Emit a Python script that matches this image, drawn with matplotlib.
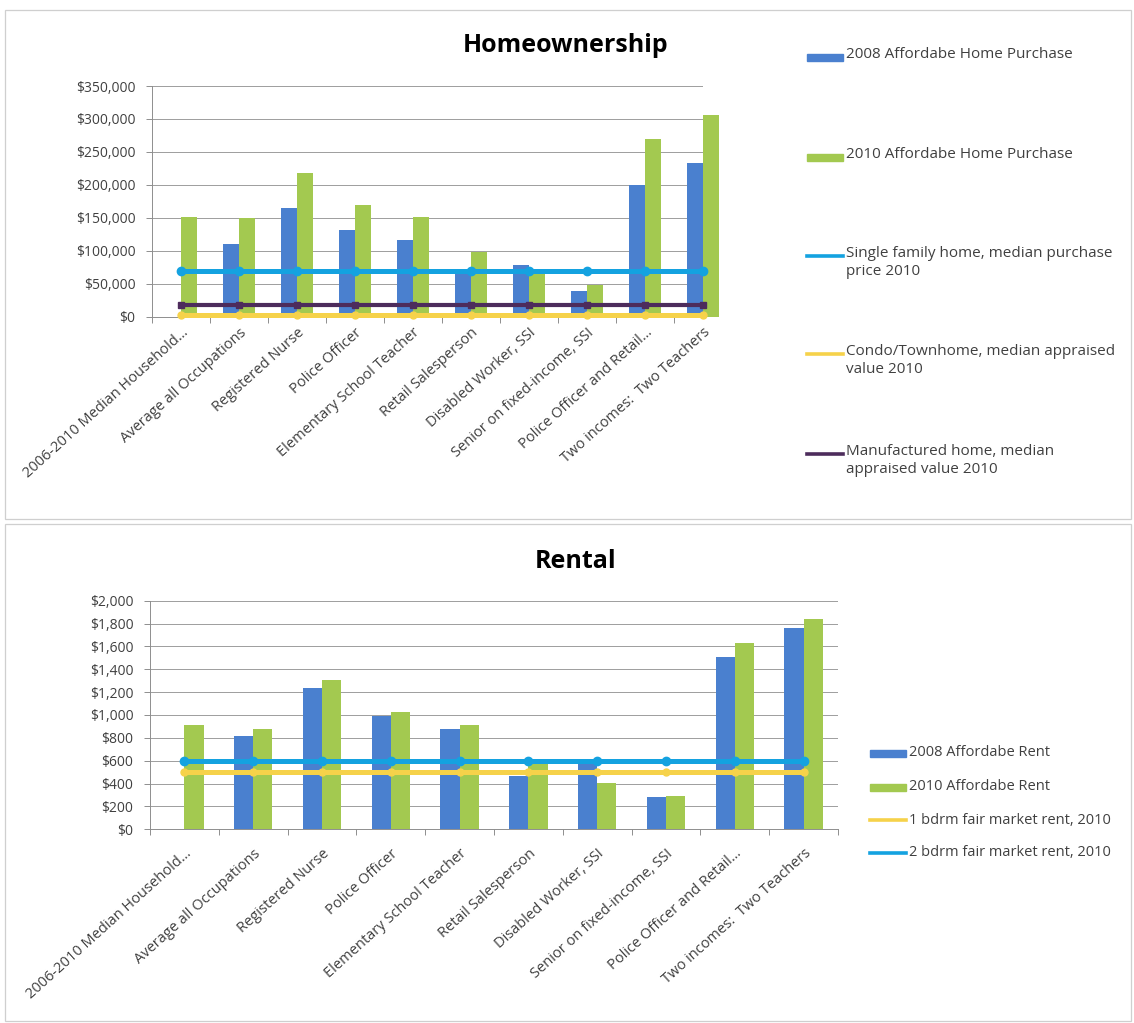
import numpy as np
import matplotlib
matplotlib.use("Agg")
import matplotlib.pyplot as plt
from matplotlib.patches import Rectangle
from matplotlib.lines import Line2D

# ---------------- data ----------------
categories = [
    "2006-2010 Median Household…",
    "Average all Occupations",
    "Registered Nurse",
    "Police Officer",
    "Elementary School Teacher",
    "Retail Salesperson",
    "Disabled Worker, SSI",
    "Senior on fixed-income, SSI",
    "Police Officer and Retail…",
    "Two incomes:  Two Teachers",
]

home_2008 = [0, 110000, 165000, 131000, 116000, 68000, 79000, 39000, 200000, 233000]
home_2010 = [152000, 149000, 218000, 170000, 152000, 98000, 66000, 48000, 270000, 306000]
single_family_2010 = [70000, 70000, 70000, 70000, 70000, 70000, 70000, 70000, 70000, 70000]
condo_2010 = [2500, 2500, 2500, 2500, 2500, 2500, 2500, 2500, 2500, 2500]
manufactured_2010 = [17000, 17000, 17000, 17000, 17000, 17000, 17000, 17000, 17000, 17000]

rent_2008 = [0, 820, 1240, 995, 875, 465, 590, 285, 1505, 1764]
rent_2010 = [912, 875, 1306, 1029, 912, 570, 408, 290, 1627, 1837]
rent_1bdrm_2010 = [500, 500, 500, 500, 500, 500, 500, 500, 500, 500]
rent_2bdrm_2010 = [595, 595, 595, 595, 595, 595, 595, 595, 595, 595]

home_ticks = [0, 50000, 100000, 150000, 200000, 250000, 300000, 350000]
rent_ticks = [0, 200, 400, 600, 800, 1000, 1200, 1400, 1600, 1800, 2000]

home_legend = [
    "2008 Affordabe Home Purchase",
    "2010 Affordabe Home Purchase",
    "Single family home, median purchase\nprice 2010",
    "Condo/Townhome, median appraised\nvalue 2010",
    "Manufactured home, median\nappraised value 2010",
]
rent_legend = [
    "2008 Affordabe Rent",
    "2010 Affordabe Rent",
    "1 bdrm fair market rent, 2010",
    "2 bdrm fair market rent, 2010",
]

# ---------------- style ----------------
W, H = 1134, 1023
BLUE = "#4a80cf"
GREEN = "#a3c950"
CYAN = "#14a2e0"
YELLOW = "#f6d24a"
PURPLE = "#4d2c5c"
TXT = "#404040"
GRID = "#8e8e8e"
FONT = ["Open Sans", "DejaVu Sans"]
plt.rcParams["font.family"] = FONT

fig = plt.figure(figsize=(W / 100, H / 100), dpi=100)


def fx(x):
    return x / W


def fy(y):
    return 1 - y / H


# panel borders
for (x0, y0, x1, y1) in [(5, 10, 1131, 519), (5, 524, 1131, 1021)]:
    fig.patches.append(Rectangle((fx(x0), fy(y1)), fx(x1) - fx(x0), fy(y0) - fy(y1),
                                 transform=fig.transFigure, fill=False,
                                 edgecolor="#cfcfcf", linewidth=0.9))


def style_axes(ax, ticks, fmt, xlim, xpad):
    n = len(categories)
    x = np.arange(n)
    ax.set_yticks(ticks)
    ax.set_yticklabels([fmt(t) for t in ticks], fontsize=10, color=TXT)
    ax.set_xticks(x)
    ax.set_xticklabels(categories, rotation=42, ha="right", va="top",
                       rotation_mode="anchor", fontsize=10.5, color=TXT)
    ax.set_xticks(np.arange(n + 1) - 0.5, minor=True)
    ax.set_xlim(*xlim)
    ax.set_ylim(ticks[0], ticks[-1])
    ax.tick_params(axis="x", which="major", length=0, pad=xpad)
    ax.tick_params(axis="x", which="minor", length=4, color=GRID, width=0.7)
    ax.tick_params(axis="y", length=4, color=GRID, width=0.7, pad=8)
    ax.grid(axis="y", color=GRID, linewidth=0.6, zorder=0)
    ax.set_axisbelow(True)
    for s in ["top", "right"]:
        ax.spines[s].set_visible(False)
    for s in ["left", "bottom"]:
        ax.spines[s].set_color(GRID)
        ax.spines[s].set_linewidth(0.7)
    ax.set_facecolor("none")
    return x


bw = 0.28

# ---------------- Homeownership ----------------
ax1 = fig.add_axes([fx(152), fy(316.7), fx(703) - fx(152), fy(86) - fy(316.7)])
x = style_axes(ax1, home_ticks, lambda t: "${:,.0f}".format(t), (-0.5, 9.0), 6)
ax1.bar(x - bw / 2, home_2008, bw, color=BLUE, zorder=2, clip_on=False)
ax1.bar(x + bw / 2, home_2010, bw, color=GREEN, zorder=2, clip_on=False)
ax1.plot(x, single_family_2010, color=CYAN, lw=3.6, marker="o", ms=6, zorder=4, clip_on=False)
ax1.plot(x, condo_2010, color=YELLOW, lw=3.6, marker="o", ms=5, zorder=4, clip_on=False)
ax1.plot(x, manufactured_2010, color=PURPLE, lw=3.0, marker="s", ms=4.5, zorder=4, clip_on=False)
fig.text(fx(566), fy(46), "Homeownership", ha="center", va="center",
         fontsize=18, fontweight="bold", color="black")

# legend (top)
home_handles = [("bar", BLUE), ("bar", GREEN), ("line", CYAN), ("line", YELLOW), ("line", PURPLE)]
home_leg_y = [57, 157, 256, 354, 454]
for (kind, col), lab, yy in zip(home_handles, home_legend, home_leg_y):
    if kind == "bar":
        fig.patches.append(Rectangle((fx(807), fy(yy + 3.5)), fx(843) - fx(807), fy(yy - 3.5) - fy(yy + 3.5),
                                     transform=fig.transFigure, color=col))
    else:
        fig.lines.append(Line2D([fx(807), fx(843)], [fy(yy), fy(yy)], transform=fig.transFigure,
                                color=col, lw=2.6))
    fig.text(fx(846), fy(yy - 10), lab, ha="left", va="top", fontsize=11, color=TXT, linespacing=1.3)

# ---------------- Rental ----------------
ax2 = fig.add_axes([fx(150), fy(829.3), fx(838) - fx(150), fy(600.7) - fy(829.3)])
x = style_axes(ax2, rent_ticks, lambda t: "${:,.0f}".format(t), (-0.5, 9.5), 12)
ax2.bar(x - bw / 2, rent_2008, bw, color=BLUE, zorder=2)
ax2.bar(x + bw / 2, rent_2010, bw, color=GREEN, zorder=2)
ax2.plot(x, rent_1bdrm_2010, color=YELLOW, lw=3.6, marker="o", ms=5, zorder=4)
ax2.plot(x, rent_2bdrm_2010, color=CYAN, lw=3.6, marker="o", ms=6, zorder=5)
fig.text(fx(576), fy(562), "Rental", ha="center", va="center",
         fontsize=18, fontweight="bold", color="black")

rent_handles = [("bar", BLUE), ("bar", GREEN), ("line", YELLOW), ("line", CYAN)]
rent_leg_y = [753, 787, 820, 853]
for (kind, col), lab, yy in zip(rent_handles, rent_legend, rent_leg_y):
    if kind == "bar":
        fig.patches.append(Rectangle((fx(870), fy(yy + 3.5)), fx(906) - fx(870), fy(yy - 3.5) - fy(yy + 3.5),
                                     transform=fig.transFigure, color=col))
    else:
        fig.lines.append(Line2D([fx(870), fx(906)], [fy(yy), fy(yy)], transform=fig.transFigure,
                                color=col, lw=2.6))
    fig.text(fx(909), fy(yy), lab, ha="left", va="center", fontsize=10.5, color=TXT)

fig.savefig("out.png", dpi=100, facecolor="white")
